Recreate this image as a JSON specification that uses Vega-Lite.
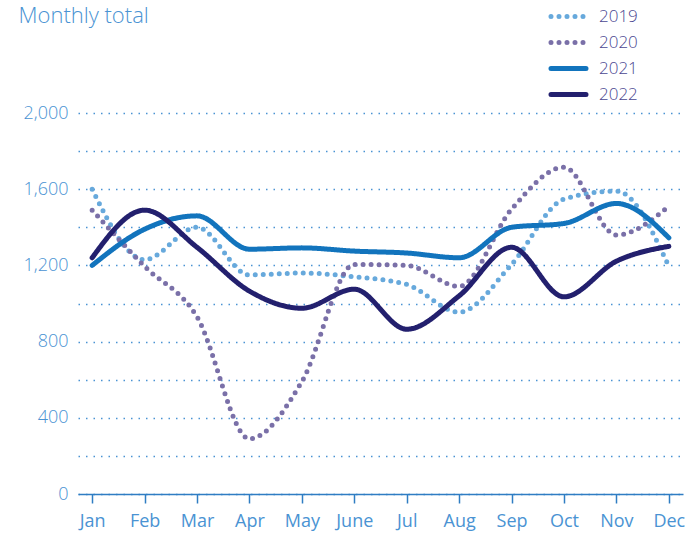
{
  "$schema": "https://vega.github.io/schema/vega-lite/v6.json",
  "width": 605,
  "height": 381,
  "autosize": {"type": "none"},
  "padding": {"left": 78, "top": 113, "right": 7, "bottom": 42},
  "background": "white",
  "config": {
    "view": {"stroke": null},
    "font": "Open Sans"
  },
  "data": {
    "values": [
      {"month": "Jan", "year": "2019", "value": 1600},
      {"month": "Feb", "year": "2019", "value": 1230},
      {"month": "Mar", "year": "2019", "value": 1400},
      {"month": "Apr", "year": "2019", "value": 1150},
      {"month": "May", "year": "2019", "value": 1160},
      {"month": "June", "year": "2019", "value": 1140},
      {"month": "Jul", "year": "2019", "value": 1100},
      {"month": "Aug", "year": "2019", "value": 955},
      {"month": "Sep", "year": "2019", "value": 1205},
      {"month": "Oct", "year": "2019", "value": 1548},
      {"month": "Nov", "year": "2019", "value": 1590},
      {"month": "Dec", "year": "2019", "value": 1195},
      {"month": "Jan", "year": "2020", "value": 1490},
      {"month": "Feb", "year": "2020", "value": 1195},
      {"month": "Mar", "year": "2020", "value": 930},
      {"month": "Apr", "year": "2020", "value": 290},
      {"month": "May", "year": "2020", "value": 590},
      {"month": "June", "year": "2020", "value": 1205},
      {"month": "Jul", "year": "2020", "value": 1200},
      {"month": "Aug", "year": "2020", "value": 1090},
      {"month": "Sep", "year": "2020", "value": 1495},
      {"month": "Oct", "year": "2020", "value": 1715},
      {"month": "Nov", "year": "2020", "value": 1360},
      {"month": "Dec", "year": "2020", "value": 1510},
      {"month": "Jan", "year": "2021", "value": 1200},
      {"month": "Feb", "year": "2021", "value": 1390},
      {"month": "Mar", "year": "2021", "value": 1460},
      {"month": "Apr", "year": "2021", "value": 1285},
      {"month": "May", "year": "2021", "value": 1292},
      {"month": "June", "year": "2021", "value": 1275},
      {"month": "Jul", "year": "2021", "value": 1265},
      {"month": "Aug", "year": "2021", "value": 1240},
      {"month": "Sep", "year": "2021", "value": 1400},
      {"month": "Oct", "year": "2021", "value": 1420},
      {"month": "Nov", "year": "2021", "value": 1525},
      {"month": "Dec", "year": "2021", "value": 1345},
      {"month": "Jan", "year": "2022", "value": 1240},
      {"month": "Feb", "year": "2022", "value": 1490},
      {"month": "Mar", "year": "2022", "value": 1295},
      {"month": "Apr", "year": "2022", "value": 1065},
      {"month": "May", "year": "2022", "value": 975},
      {"month": "June", "year": "2022", "value": 1075},
      {"month": "Jul", "year": "2022", "value": 865},
      {"month": "Aug", "year": "2022", "value": 1040},
      {"month": "Sep", "year": "2022", "value": 1295},
      {"month": "Oct", "year": "2022", "value": 1035},
      {"month": "Nov", "year": "2022", "value": 1222},
      {"month": "Dec", "year": "2022", "value": 1300}
    ]
  },
  "mark": {"type": "line", "interpolate": "monotone", "strokeCap": "round"},
  "encoding": {
    "x": {
      "field": "month",
      "type": "ordinal",
      "sort": ["Jan", "Feb", "Mar", "Apr", "May", "June", "Jul", "Aug", "Sep", "Oct", "Nov", "Dec"],
      "scale": {"type": "point", "padding": 0.27},
      "axis": {
        "title": null,
        "labelAngle": 0,
        "labelFontSize": 18,
        "labelColor": "#4a93d3",
        "labelPadding": 9,
        "domainColor": "#2f7dc3",
        "domainWidth": 1.5,
        "tickColor": "#2f7dc3",
        "tickWidth": 1.5,
        "tickSize": 9,
        "grid": false
      }
    },
    "y": {
      "field": "value",
      "type": "quantitative",
      "scale": {"domain": [0, 2000], "nice": false},
      "axis": {
        "title": "Monthly total",
        "titleAngle": 0,
        "titleAlign": "left",
        "titleBaseline": "top",
        "titleX": -60,
        "titleY": -108,
        "titleFontSize": 22,
        "titleFontWeight": 300,
        "titleColor": "#4a93d3",
        "values": [0, 200, 400, 600, 800, 1000, 1200, 1400, 1600, 1800, 2000],
        "labelExpr": "datum.value % 400 === 0 ? format(datum.value, ',') : ''",
        "labelFontSize": 18,
        "labelFontWeight": 300,
        "labelColor": "#4a93d3",
        "labelPadding": 10,
        "domain": false,
        "ticks": false,
        "grid": true,
        "gridColor": "#4a93d3",
        "gridDash": [1.5, 6],
        "gridWidth": 1.5
      }
    },
    "color": {
      "field": "year",
      "type": "nominal",
      "scale": {"domain": ["2019", "2020", "2021", "2022"], "range": ["#67a9dc", "#7a70a8", "#1274bd", "#23206e"]},
      "legend": {
        "title": null,
        "orient": "none",
        "legendX": 470,
        "legendY": -109,
        "symbolType": "M-1.75,0H1.75",
        "symbolSize": 400,
        "symbolStrokeWidth": 5,
        "labelFontSize": 17,
        "labelFontWeight": 300,
        "labelColor": "#4b4791",
        "labelOffset": 18,
        "rowPadding": 3,
        "symbolOffset": 8,
        "encode": {"symbols": {"update": {"strokeCap": {"value": "round"}}}}
      }
    },
    "strokeDash": {
      "field": "year",
      "type": "nominal",
      "scale": {"domain": ["2019", "2020", "2021", "2022"], "range": [[0, 8], [0, 8], [1, 0], [1, 0]]},
      "legend": null
    },
    "strokeWidth": {
      "field": "year",
      "type": "nominal",
      "scale": {"domain": ["2019", "2020", "2021", "2022"], "range": [5, 5, 4.5, 4.5]},
      "legend": null
    }
  }
}
